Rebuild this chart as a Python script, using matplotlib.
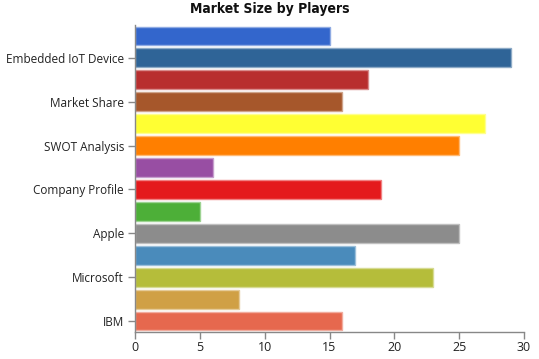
import matplotlib
matplotlib.use("Agg")
import matplotlib.pyplot as plt
import matplotlib.colors as mcolors

# Bars listed bottom to top
values = [16, 8, 23, 17, 25, 5, 19, 6, 25, 27, 16, 18, 29, 15]
colors = ["#e6684e", "#d0a045", "#b5bd3a", "#4a8bbb", "#8c8c8c", "#4daf38",
          "#e41a1c", "#984ea3", "#ff7f00", "#ffff33", "#a6572b", "#b82e2e",
          "#2f6497", "#3366cc"]
tick_positions = [0, 2, 4, 6, 8, 10, 12]
tick_labels = ["IBM", "Microsoft", "Apple", "Company Profile", "SWOT Analysis",
               "Market Share", "Embedded IoT Device"]
x_ticks = [0, 5, 10, 15, 20, 25, 30]
title = "Market Size by Players"

W, H = 539, 359
fig = plt.figure(figsize=(W / 100, H / 100), dpi=100)
ax = fig.add_axes([135 / W, (H - 332) / H, (524 - 135) / W, (332 - 25) / H])

def lighter(c, f=0.45):
    r, g, b = mcolors.to_rgb(c)
    return (r + (1 - r) * f, g + (1 - g) * f, b + (1 - b) * f)

ypos = list(range(len(values)))
for y, v, c in zip(ypos, values, colors):
    ax.barh(y, v, height=0.86, color=c, edgecolor=lighter(c), linewidth=1.0)

ax.set_xlim(0, 30)
ax.set_ylim(-0.5, len(values) - 0.5)
ax.set_xticks(x_ticks)
ax.set_xticklabels([str(t) for t in x_ticks])
ax.set_yticks(tick_positions)
ax.set_yticklabels(tick_labels)

for s in ["top", "right"]:
    ax.spines[s].set_visible(False)
for s in ["left", "bottom"]:
    ax.spines[s].set_color("#888888")
    ax.spines[s].set_linewidth(1.0)

ax.tick_params(axis="both", colors="#888888", labelcolor="#222222",
               length=5, width=1)
ax.tick_params(axis="y", labelsize=8.5, pad=3)
ax.tick_params(axis="x", labelsize=9, pad=1.5)
for lab in ax.get_xticklabels() + ax.get_yticklabels():
    lab.set_family("Open Sans")

fig.text(270 / W, 1 - 9 / H, title, ha="center", va="center",
         fontsize=10, fontweight="heavy", family="DejaVu Sans",
         fontstretch="condensed", color="#111111")

fig.savefig("out.png", dpi=100)
